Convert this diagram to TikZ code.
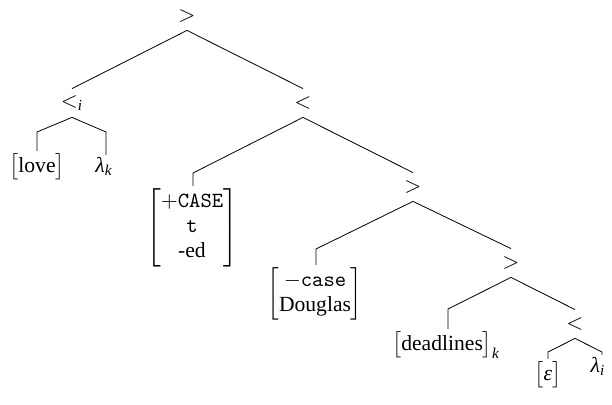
\documentclass[tikz,border=0pt]{standalone}
\usepackage{amsmath}
\usepackage{fontspec}
\setmainfont{Liberation Serif}
\usepackage{tikz}

\begin{document}
\begin{tikzpicture}[x = 0.5pt, y = -0.5pt,
        every node/.style = {font = \fontsize{10.8}{12.5}\selectfont},
        op/.style = {inner sep = 0pt, minimum height = 14pt},
        leaf/.style = {inner sep = 1pt, anchor = north}]
    \useasboundingbox (0,0) rectangle (612,405);
    \node[op] (n0) at (187,16) {$>$};
    \node[op] (n1) at (72,103) {$<_{\textit{i}}$};
    \node[op] (n2) at (303,103) {$<$};
    \node[op] (n3) at (413,187) {$>$};
    \node[op] (n4) at (511,263) {$>$};
    \node[op] (n5) at (575,324) {$<$};
    \node[leaf] (love) at (37,151) {$\bigl[\text{love}\bigr]$};
    \node[leaf] (lamk) at (104,155) {$\textit{λ}_{\textit{k}}$};
    \node[leaf] (m1) at (192,186) {$\left[\begin{tabular}{@{}c@{}}$+$\texttt{CASE}\\ \texttt{t}\\ -ed\end{tabular}\right]$};
    \node[leaf] (m2) at (315,265) {$\left[\begin{tabular}{@{}c@{}}$-$\texttt{case}\\ Douglas\end{tabular}\right]$};
    \node[leaf] (dl) at (446,329) {$\bigl[\text{deadlines}\bigr]_{\textit{k}}$};
    \node[leaf] (eps) at (548,359) {$\bigl[\textit{ε}\bigr]$};
    \node[leaf] (lami) at (598,355) {$\textit{λ}_{\textit{i}}$};
    \coordinate (ca) at (37,132);
    \coordinate (cb) at (106,132);
    \coordinate (cc) at (193,173);
    \coordinate (cd) at (316,249);
    \coordinate (ce) at (448,309);
    \coordinate (cf) at (548,352);
    \coordinate (cg) at (602,352);
    \draw (n0.south) -- (n1.north);
    \draw (n0.south) -- (n2.north);
    \draw (n1.south) -- (ca) -- (ca |- love.north);
    \draw (n1.south) -- (cb) -- (cb |- lamk.north);
    \draw (n2.south) -- (cc) -- (cc |- m1.north);
    \draw (n2.south) -- (n3.north);
    \draw (n3.south) -- (cd) -- (cd |- m2.north);
    \draw (n3.south) -- (n4.north);
    \draw (n4.south) -- (ce) -- (ce |- dl.north);
    \draw (n4.south) -- (n5.north);
    \draw (n5.south) -- (cf) -- (cf |- eps.north);
    \draw (n5.south) -- (cg) -- (cg |- lami.north);
\end{tikzpicture}
\end{document}
